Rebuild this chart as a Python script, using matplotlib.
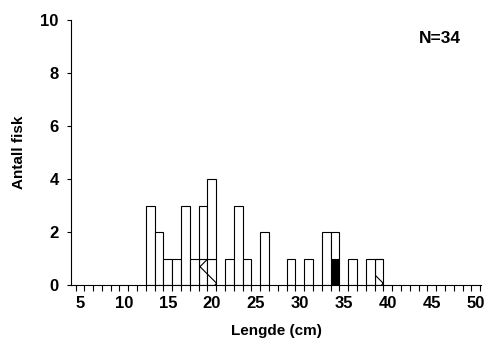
import numpy as np
import matplotlib
matplotlib.use("Agg")
import matplotlib.pyplot as plt

# lengdefordeling, antall fisk per cm-gruppe
lengde = np.array([13, 14, 15, 16, 17, 18, 19, 20, 22, 23, 24, 26, 29, 31, 33, 34, 36, 38, 39])
apen = np.array([3, 2, 1, 1, 3, 1, 2, 3, 1, 3, 1, 2, 1, 1, 2, 1, 1, 1, 0])
kryss = np.array([0, 0, 0, 0, 0, 0, 1, 1, 0, 0, 0, 0, 0, 0, 0, 0, 0, 0, 1])
svart = np.array([0, 0, 0, 0, 0, 0, 0, 0, 0, 0, 0, 0, 0, 0, 0, 1, 0, 0, 0])

x_labels = [5, 10, 15, 20, 25, 30, 35, 40, 45, 50]
y_labels = [0, 2, 4, 6, 8, 10]
n_text = "N=34"

plt.rcParams['font.family'] = ['Liberation Sans', 'DejaVu Sans']
plt.rcParams['hatch.linewidth'] = 0.8

fig = plt.figure(figsize=(4.87, 3.52), dpi=100)
ax = fig.add_axes([0.146, 0.19, 0.842, 0.753])

ax.bar(lengde, svart, width=1, color='black', edgecolor='black', linewidth=0.8)
ax.bar(lengde, kryss, width=1, bottom=svart, facecolor='white',
       edgecolor='black', hatch='x', linewidth=0.8)
ax.bar(lengde, apen, width=1, bottom=svart + kryss, facecolor='white',
       edgecolor='black', linewidth=0.8)

ax.set_xlim(4, 50.6)
ax.set_ylim(0, 10)
ax.set_xticks(x_labels)
ax.set_xticks(np.arange(4.5, 51, 1), minor=True)
ax.set_yticks(y_labels)
ax.tick_params(axis='x', which='major', length=0, pad=8, labelsize=12)
ax.tick_params(axis='x', which='minor', length=4, direction='out', width=0.8)
ax.tick_params(axis='y', length=3, direction='out', width=0.8, pad=6, labelsize=12)
for lab in ax.get_xticklabels() + ax.get_yticklabels():
    lab.set_fontweight('bold')

for s in ['top', 'right']:
    ax.spines[s].set_visible(False)
ax.spines['left'].set_linewidth(0.8)
ax.spines['bottom'].set_linewidth(0.8)

ax.set_xlabel("Lengde (cm)", fontsize=11, fontweight='bold', labelpad=9)
ax.set_ylabel("Antall fisk", fontsize=11, fontweight='bold', labelpad=10)
ax.text(0.9, 0.93, n_text, transform=ax.transAxes, fontsize=12.5,
        fontweight='bold', ha='center', va='center')

fig.savefig("out.png", dpi=100)
